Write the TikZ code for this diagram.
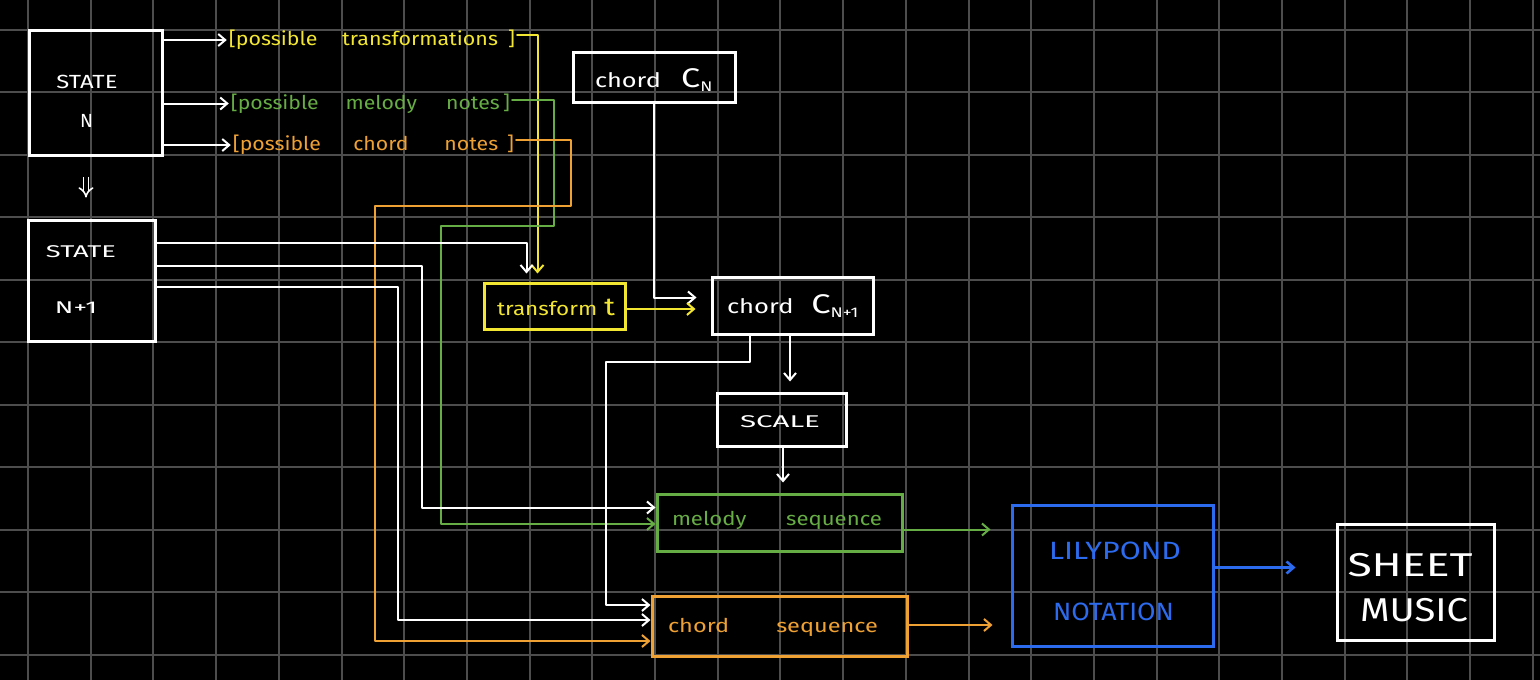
\documentclass[tikz,border=0pt]{standalone}
\usepackage{fontspec}
\setmainfont{Fira Sans}
\usetikzlibrary{arrows.meta}
\definecolor{gridc}{HTML}{4D4D4D}
\definecolor{hy}{HTML}{F2E632}
\definecolor{hg}{HTML}{66AD45}
\definecolor{ho}{HTML}{EFA134}
\definecolor{hb}{HTML}{2D6BEE}
\newcommand\fitw[2]{\resizebox{#1}{\height}{#2}}
\newcommand\bigC{{\fontsize{27}{27}\selectfont C}}
\begin{document}
\begin{tikzpicture}[x=1pt,y=-1pt,
  sbox/.style={draw=#1,line width=3pt,inner sep=0pt},
  sbox/.default=white,
  lbl/.style={text=#1,inner sep=1pt},
  lbl/.default=white,
  fs/.style={font=\fontsize{#1}{#1}\selectfont},
  wl/.style={draw=white,line width=2pt,line join=round,line cap=round},
  yl/.style={wl,draw=hy},
  gl/.style={wl,draw=hg},
  ol/.style={wl,draw=ho},
  bl/.style={wl,draw=hb,line width=2.6pt},
  tip/.style={-{Straight Barb[length=7pt,width=12pt]}}
]
% background and grid
\fill[black] (0,0) rectangle (1540,680);
\useasboundingbox (0,0) rectangle (1540,680);
\foreach \i in {0,...,24} \draw[gridc,line width=2pt] (28+62.7*\i,0) -- (28+62.7*\i,680);
\foreach \j in {0,...,10} \draw[gridc,line width=2pt] (0,29.5+62.55*\j) -- (1540,29.5+62.55*\j);

% boxes
\node[sbox,minimum width=133pt,minimum height=125pt] (sn) at (95.5,92.5) {};
\node[sbox,minimum width=127pt,minimum height=121pt] (sn1) at (92,280.5) {};
\node[sbox,minimum width=162pt,minimum height=50pt] (cn) at (654,77) {};
\node[sbox=hy,minimum width=141pt,minimum height=46pt] (tt) at (554.5,306) {};
\node[sbox,minimum width=161pt,minimum height=57pt] (cn1) at (792.5,305.5) {};
\node[sbox,minimum width=129pt,minimum height=53pt] (sc) at (781.5,419.5) {};
\node[sbox=hg,minimum width=245pt,minimum height=57pt] (ms) at (779.5,522.5) {};
\node[sbox=ho,minimum width=255pt,minimum height=60pt] (cs) at (779.5,626) {};
\node[sbox=hb,minimum width=201pt,minimum height=141pt] (lp) at (1112.5,575.5) {};
\node[sbox,minimum width=157pt,minimum height=116pt] (sm) at (1415.5,582) {};

% texts
\node[lbl,fs=19] (snA) at (87,82) {\fitw{61pt}{STATE}};
\node[lbl,fs=19] (snB) at (86.5,121) {N};
\node[lbl,fs=17] (snC) at (81,252) {\fitw{70pt}{STATE}};
\node[lbl,fs=17] (snD) at (76,308) {\fitw{42pt}{N+1}};
\node[lbl=hy,fs=19,inner sep=2pt] (ptrans) at (372,40) {\fitw{286pt}{[possible\hspace{22pt}transformations\hspace{9pt}]}};
\node[lbl=hg,fs=19,inner sep=2pt] (pmel) at (370.5,103.5) {\fitw{279pt}{[possible\hspace{24pt}melody\hspace{26pt}notes\hspace{3pt}]}};
\node[lbl=ho,fs=19,inner sep=2pt] (pchord) at (373.5,145) {\fitw{281pt}{[possible\hspace{29pt}chord\hspace{32pt}notes\hspace{8pt}]}};
\node[lbl,fs=20] (cnt) at (654,80) {\fitw{118pt}{chord\hspace{16pt}\bigC\textsubscript{N}}};
\node[lbl=hy,fs=19] (ttt) at (556,307) {\fitw{118pt}{transform\hspace{6pt}{\fontsize{25}{25}\selectfont t}}};
\node[lbl,fs=20] (cn1t) at (793,306) {\fitw{132pt}{chord\hspace{14pt}\bigC\textsubscript{N+1}}};
\node[lbl,fs=17] (sct) at (780,422) {\fitw{80pt}{SCALE}};
\node[lbl=hg,fs=19] (mst) at (777,520) {\fitw{210pt}{melody\hspace{34pt}sequence}};
\node[lbl=ho,fs=19] (cst) at (773,627) {\fitw{210pt}{chord\hspace{38pt}sequence}};
\node[lbl=hb,fs=25] (lpA) at (1115,551) {\fitw{132pt}{LILYPOND}};
\node[lbl=hb,fs=25] (lpB) at (1113.5,612) {\fitw{121pt}{NOTATION}};
\node[lbl,fs=33] (smA) at (1410,565) {\fitw{125pt}{SHEET}};
\node[lbl,fs=33] (smB) at (1414,610) {\fitw{108pt}{MUSIC}};

% state N outputs
\draw[wl,tip] (sn.east |- ptrans.west) -- (ptrans.west);
\draw[wl,tip] (sn.east |- pmel.west) -- (pmel.west);
\draw[wl,tip] (sn.east |- pchord.west) -- (pchord.west);
\draw[white,line width=1.6pt,double=black,double distance=3.5pt,-{Implies},shorten <=20pt,shorten >=21pt]
  ([xshift=-9.5pt]sn.south) -- ([xshift=-9.5pt]sn.south |- sn1.north);

% coloured feeds
\draw[yl,tip,shorten >=8pt] ([yshift=5pt]ptrans.east) -| ([xshift=-17pt]tt.north);
\draw[gl,tip] ([yshift=3.5pt]pmel.east) -| (554,226) -| ([xshift=-215pt,yshift=-1.5pt]ms.west) -- ([yshift=-1.5pt]ms.west);
\draw[ol,tip] ([yshift=5pt]pchord.east) -| (571,206) -| ([xshift=-276pt,yshift=-15pt]cs.west) -- ([yshift=-15pt]cs.west);

% state N+1 feeds
\draw[wl,tip,shorten >=8pt] ([yshift=38pt]sn1.east) -| ([xshift=-28pt]tt.north);
\draw[wl,tip] ([yshift=15pt]sn1.east) -| ([xshift=-234pt,yshift=15pt]ms.west) -- ([yshift=15pt]ms.west);
\draw[wl,tip] ([yshift=-6pt]sn1.east) -| ([xshift=-253pt,yshift=6pt]cs.west) -- ([yshift=6pt]cs.west);

% chords
\draw[wl,tip,shorten >=14pt] (cn.south) |- ([yshift=8pt]cn1.west);
\draw[yl,tip,shorten >=15pt] ([yshift=-3pt]tt.east) -- ([yshift=-3pt]tt.east -| cn1.west);
\draw[wl,tip] ([xshift=-43pt]cn1.south) |- (606,362) |- ([yshift=21pt]cs.west);
\draw[wl,tip,shorten >=10pt] ([xshift=-2.5pt]cn1.south) -- ([xshift=-2.5pt]cn1.south |- sc.north);
\draw[wl,tip,shorten >=10pt] ([xshift=1.5pt]sc.south) -- ([xshift=1.5pt]sc.south |- ms.north);

% to lilypond and sheet music
\draw[gl,tip,shorten >=20pt] ([yshift=-7pt]ms.east) -- ([yshift=-7pt]ms.east -| lp.west);
\draw[ol,tip,shorten >=18pt] ([yshift=1pt]cs.east) -- ([yshift=1pt]cs.east -| lp.west);
\draw[bl,tip,shorten >=40pt] ([yshift=8pt]lp.east) -- ([yshift=8pt]lp.east -| sm.west);
\end{tikzpicture}
\end{document}
